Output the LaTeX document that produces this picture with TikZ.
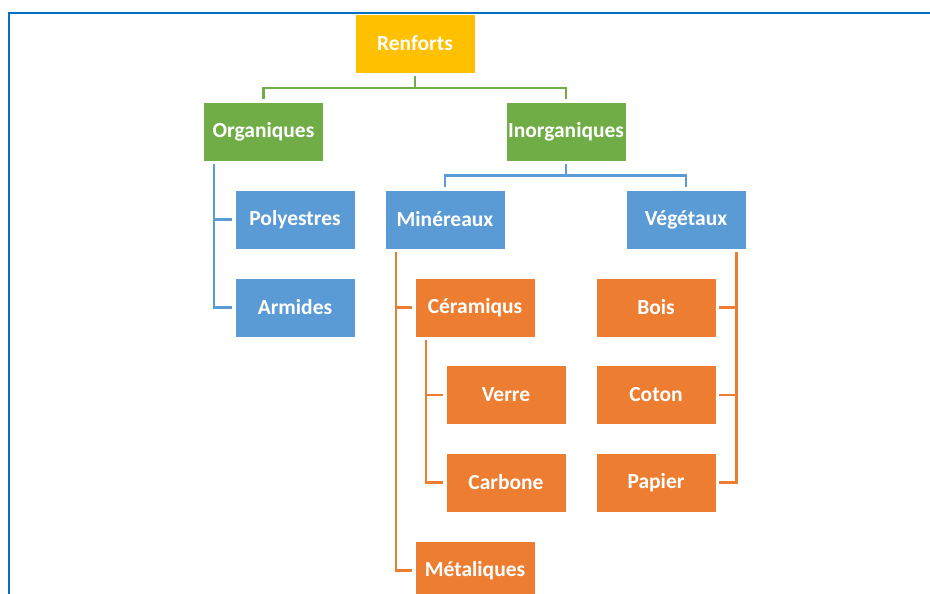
\documentclass[tikz,border=0pt]{standalone}
\usepackage{fontspec}
\setmainfont{Carlito}
\definecolor{cyel}{HTML}{FFC000}
\definecolor{cgrn}{HTML}{70AD47}
\definecolor{cblu}{HTML}{5B9BD5}
\definecolor{corg}{HTML}{ED7D31}
\definecolor{cfrm}{HTML}{0070C0}
\begin{document}
\begin{tikzpicture}[x=1pt,y=-1pt,
  box/.style={minimum width=120pt,minimum height=59pt,inner sep=0pt,draw=white,line width=0.6pt,
    text=white,font=\fontsize{21.5}{25}\selectfont\bfseries},
  ybox/.style={box,fill=cyel},
  gbox/.style={box,fill=cgrn},
  bbox/.style={box,fill=cblu},
  obox/.style={box,fill=corg},
  gl/.style={draw=cgrn,line width=2.4pt},
  bl/.style={draw=cblu,line width=2.4pt},
  ol/.style={draw=corg,line width=2.4pt},
  frm/.style={draw=cfrm,line width=2pt}]
\useasboundingbox (0,0) rectangle (930,594);
\clip (0,0) rectangle (930,594);
\draw[frm] (9,600) -- (9,13) -- (932,13);
\node[ybox] (R) at (415,43.5) {Renforts};
\node[gbox] (O) at (263.5,131.5) {Organiques};
\node[gbox] (I) at (566,131.5) {Inorganiques};
\node[bbox] (P) at (295,219.5) {Polyestres};
\node[bbox] (A) at (295,307.5) {Armides};
\node[bbox] (M) at (445,219.5) {Minéreaux};
\node[bbox] (V) at (686,219.5) {Végétaux};
\node[obox] (C) at (475,307.5) {Céramiqus};
\node[obox] (Ve) at (506,395) {Verre};
\node[obox] (Ca) at (506,482.5) {Carbone};
\node[obox] (Me) at (475,570.5) {Métaliques};
\node[obox] (B) at (656,307.5) {Bois};
\node[obox] (Co) at (656,395) {Coton};
\node[obox] (Pa) at (656,482.5) {Papier};
% Renforts
\draw[gl] ([yshift=-3pt]R.south) -- ++(0,11.5) coordinate (rj);
\draw[gl] ([yshift=3pt]O.north) |- (rj) -| ([yshift=3pt]I.north);
% Organiques
\draw[bl] ([xshift=11pt,yshift=-3pt]O.south west) |- ([xshift=-3pt]A.west);
\draw[bl] ([xshift=11pt]O.south west |- P.west) -- ([xshift=-3pt]P.west);
% Inorganiques
\draw[bl] ([yshift=-3pt]I.south) -- ++(0,11) coordinate (ij);
\draw[bl] ([yshift=3pt]M.north) |- (ij) -| ([yshift=3pt]V.north);
% Mineraux
\draw[ol] ([xshift=11pt,yshift=-3pt]M.south west) |- ([xshift=-3pt]Me.west);
\draw[ol] ([xshift=11pt]M.south west |- C.west) -- ([xshift=-3pt]C.west);
% Ceramiqus
\draw[ol] ([xshift=11pt,yshift=-3pt]C.south west) |- ([xshift=-3pt]Ca.west);
\draw[ol] ([xshift=11pt]C.south west |- Ve.west) -- ([xshift=-3pt]Ve.west);
% Vegetaux
\draw[ol] ([xshift=-10pt,yshift=-3pt]V.south east) |- ([xshift=3pt]Pa.east);
\draw[ol] ([xshift=-10pt]V.south east |- B.east) -- ([xshift=3pt]B.east);
\draw[ol] ([xshift=-10pt]V.south east |- Co.east) -- ([xshift=3pt]Co.east);
\end{tikzpicture}
\end{document}
